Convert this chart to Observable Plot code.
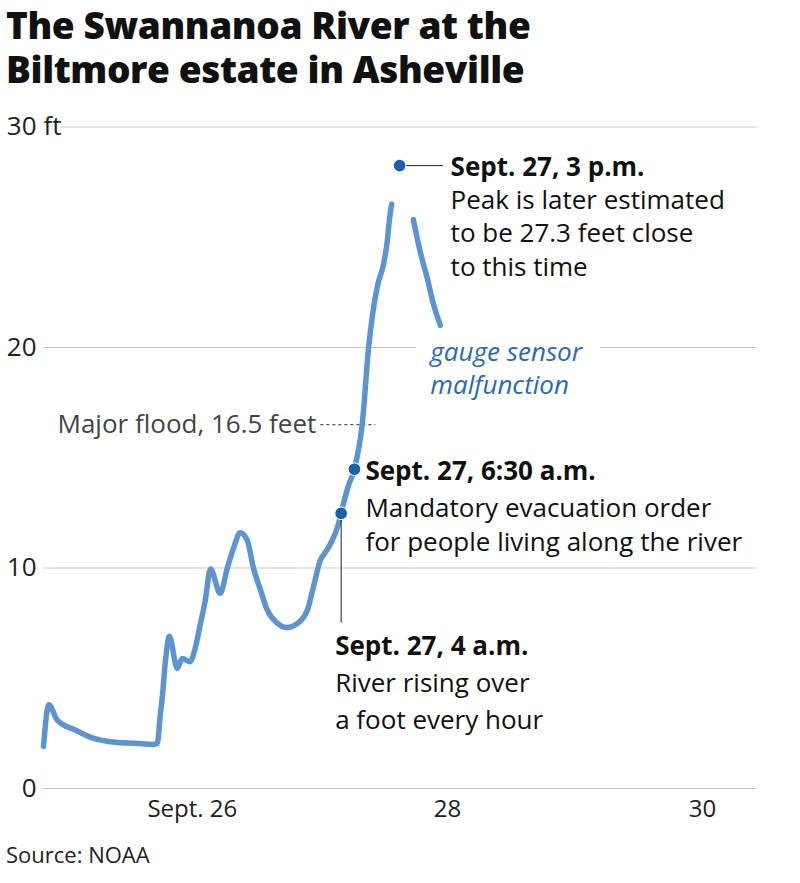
<!DOCTYPE html>
<html>
<head>
<meta charset="utf-8">
<script src="https://cdn.jsdelivr.net/npm/d3@7"></script>
<script src="https://cdn.jsdelivr.net/npm/@observablehq/plot@0.6"></script>
<style>
  body { margin: 0; background: #fff; width: 800px; font-family: "Open Sans", sans-serif; }
  #title { margin: 0; padding: 3px 0 0 6px; height: 97px; font-size: 37px; line-height: 44px; font-weight: 800; color: #111; letter-spacing: -0.4px; }
  #chart { line-height: 0; }
  #chart svg { display: block; }
  #caption { margin: 0; padding: 0 0 0 6px; font-size: 22px; line-height: 28px; color: #222; }
</style>
</head>
<body>
<h1 id="title">The Swannanoa River at the<br>Biltmore estate in Asheville</h1>
<div id="chart"></div>
<div id="caption">Source: NOAA</div>
<script>
// ---- data ----
const readingTimes = [
  "2024-09-24T20:00", "2024-09-24T21:00", "2024-09-24T22:35", "2024-09-25T02:00",
  "2024-09-25T05:10", "2024-09-25T09:30", "2024-09-25T13:20", "2024-09-25T16:40",
  "2024-09-25T17:25", "2024-09-25T18:00", "2024-09-25T18:20", "2024-09-25T18:55",
  "2024-09-25T19:40", "2024-09-25T21:10", "2024-09-25T22:05", "2024-09-25T23:35",
  "2024-09-26T00:35", "2024-09-26T01:30", "2024-09-26T02:25", "2024-09-26T03:25",
  "2024-09-26T05:15", "2024-09-26T06:35", "2024-09-26T07:45", "2024-09-26T09:00",
  "2024-09-26T10:20", "2024-09-26T11:30", "2024-09-26T12:50", "2024-09-26T14:05",
  "2024-09-26T16:00", "2024-09-26T17:40", "2024-09-26T20:20", "2024-09-26T21:40",
  "2024-09-26T22:45", "2024-09-27T00:05", "2024-09-27T01:00", "2024-09-27T02:00",
  "2024-09-27T03:30", "2024-09-27T04:00", "2024-09-27T05:20", "2024-09-27T06:30",
  "2024-09-27T08:00", "2024-09-27T09:10", "2024-09-27T09:55", "2024-09-27T10:50",
  "2024-09-27T12:00", "2024-09-27T12:40", "2024-09-27T13:05", "2024-09-27T13:30",
  "2024-09-27T15:00",
  "2024-09-27T17:35", "2024-09-27T18:55", "2024-09-27T20:15", "2024-09-27T21:20",
  "2024-09-27T22:40"
];
const readingFeet = [
  1.9, 3.8, 3.1, 2.65,
  2.3, 2.1, 2.05, 2.0,
  2.05, 3.4, 4.1, 5.7,
  6.9, 5.45, 5.9, 5.75,
  6.4, 7.45, 8.5, 9.95,
  8.85, 10.0, 10.9, 11.6,
  11.25, 10.0, 9.0, 8.1,
  7.5, 7.3, 7.6, 8.1,
  9.1, 10.35, 10.7, 11.1,
  12.0, 12.5, 13.7, 14.5,
  16.6, 20.0, 21.5, 22.8,
  23.8, 24.8, 25.8, 26.5,
  null,               // gauge sensor malfunction: no reading
  25.8, 24.3, 23.1, 22.0,
  21.0
];

const xDomainTimes = ["2024-09-24T20:00", "2024-09-30T10:20"];
const xTickTimes = ["2024-09-26T00:00", "2024-09-28T00:00", "2024-09-30T00:00"];
const xTickLabels = ["Sept. 26", "28", "30"];
const yTicks = [0, 10, 20, 30];
const yUnit = "ft";

const floodStageFeet = 16.5;
const floodLineTimes = ["2024-09-27T00:05", "2024-09-27T10:25"];
const floodLabel = "Major flood, 16.5 feet";

const annotationTimes = ["2024-09-27T04:00", "2024-09-27T06:30", "2024-09-27T15:00"];
const annotationFeet = [12.48, 14.48, 28.25];
const annotationHeads = ["Sept. 27, 4 a.m.", "Sept. 27, 6:30 a.m.", "Sept. 27, 3 p.m."];
const annotationBodies = [
  "River rising over\na foot every hour",
  "Mandatory evacuation order\nfor people living along the river",
  "Peak is later estimated\nto be 27.3 feet close\nto this time"
];
const connector4amBottomFeet = 7.5;
const peakConnectorEnd = "2024-09-27T22:00";
const malfunctionLabel = "gauge sensor\nmalfunction";

// ---- build ----
const parse = s => new Date(s + ":00Z");
const readings = readingTimes.map((s, i) => ({t: parse(s), v: readingFeet[i]}));
const ann = annotationTimes.map((s, i) => ({t: parse(s), v: annotationFeet[i], head: annotationHeads[i], body: annotationBodies[i]}));
const [a4, a630, a3] = ann;
const xStart = parse(xDomainTimes[0]);
const tickLabelMap = new Map(xTickTimes.map((s, i) => [+parse(s), xTickLabels[i]]));
const lastReading = readings[readings.length - 1];
const malf = [{t: lastReading.t, v: lastReading.v, s: malfunctionLabel}];

const BLUE = "#5b94cf";
const DOT = "#1b5fad";
const FS = 26;
const malfOpts = {x: "t", y: "v", text: "s", textAnchor: "start", lineAnchor: "top", dx: -10, dy: 11.6,
  lineHeight: 1.27, fontSize: FS, fontStyle: "italic"};

const plot = Plot.plot({
  width: 800,
  height: 740,
  marginLeft: 43,
  marginRight: 43,
  marginTop: 26.5,
  marginBottom: 52,
  style: {fontFamily: '"Open Sans", sans-serif', fontSize: "24px", color: "#222", background: "#fff", overflow: "visible"},
  x: {type: "utc", domain: xDomainTimes.map(parse), label: null},
  y: {domain: [0, 30], label: null},
  marks: [
    Plot.ruleY(yTicks, {stroke: "#c9c9c9", strokeWidth: 1}),
    Plot.axisY({ticks: yTicks, tickSize: 0, tickPadding: 7, fontSize: 26, fill: "#222", label: null}),
    Plot.text([{t: xStart, v: yTicks[yTicks.length - 1], s: yUnit}], {
      x: "t", y: "v", text: "s", textAnchor: "start", lineAnchor: "middle", dx: 0,
      fontSize: 26, fill: "#222", stroke: "white", strokeWidth: 6, paintOrder: "stroke"
    }),
    Plot.axisX({
      ticks: xTickTimes.map(parse), tickFormat: d => tickLabelMap.get(+d),
      tickSize: 0, tickPadding: 11, fontSize: 24, fill: "#222", label: null
    }),
    // major flood
    Plot.link([{x1: parse(floodLineTimes[0]), x2: parse(floodLineTimes[1]), y: floodStageFeet}], {
      x1: "x1", x2: "x2", y1: "y", y2: "y", stroke: "#555", strokeWidth: 1.2, strokeDasharray: "3,3"
    }),
    Plot.text([{t: parse(floodLineTimes[0]), v: floodStageFeet, s: floodLabel}], {
      x: "t", y: "v", text: "s", textAnchor: "end", lineAnchor: "middle", dx: -4,
      fontSize: FS, fill: "#444"
    }),
    // gauge malfunction label: white halo over gridline, then the text
    Plot.text(malf, {...malfOpts, fill: "white", stroke: "white", strokeWidth: 34}),
    Plot.text(malf, {...malfOpts, fill: "#2a6ab3"}),
    // river line
    Plot.line(readings, {x: "t", y: "v", stroke: BLUE, strokeWidth: 5.5, curve: "monotone-x", strokeLinecap: "round", strokeLinejoin: "round"}),
    // connectors
    Plot.ruleX([a4], {x: "t", y1: "v", y2: () => connector4amBottomFeet, stroke: "#222", strokeWidth: 1}),
    Plot.link([a3], {x1: "t", x2: () => parse(peakConnectorEnd), y1: "v", y2: "v", dx: 6, stroke: "#222", strokeWidth: 1}),
    // dots
    Plot.dot(ann, {x: "t", y: "v", r: 6.3, fill: DOT, stroke: "white", strokeWidth: 1}),
    // 4 a.m.
    Plot.text([a4], {x: "t", y: "v", text: "head", textAnchor: "start", lineAnchor: "top", dx: -6, dy: 123.5, fontSize: FS, fontWeight: 700, fill: "#111"}),
    Plot.text([a4], {x: "t", y: "v", text: "body", textAnchor: "start", lineAnchor: "top", dx: -6, dy: 153.2, lineHeight: 1.4, fontSize: FS, fill: "#111"}),
    // 6:30 a.m.
    Plot.text([a630], {x: "t", y: "v", text: "head", textAnchor: "start", lineAnchor: "top", dx: 11, dy: -7.5, fontSize: FS, fontWeight: 700, fill: "#111"}),
    Plot.text([a630], {x: "t", y: "v", text: "body", textAnchor: "start", lineAnchor: "top", dx: 11, dy: 23.8, lineHeight: 1.31, fontSize: FS, fill: "#111"}),
    // 3 p.m.
    Plot.text([a3], {x: "t", y: "v", text: "head", textAnchor: "start", lineAnchor: "top", dx: 51, dy: -8.5, fontSize: FS, fontWeight: 700, fill: "#111"}),
    Plot.text([a3], {x: "t", y: "v", text: "body", textAnchor: "start", lineAnchor: "top", dx: 51, dy: 20, lineHeight: 1.28, fontSize: FS, fill: "#111"})
  ]
});
document.getElementById("chart").append(plot);
</script>
</body>
</html>
